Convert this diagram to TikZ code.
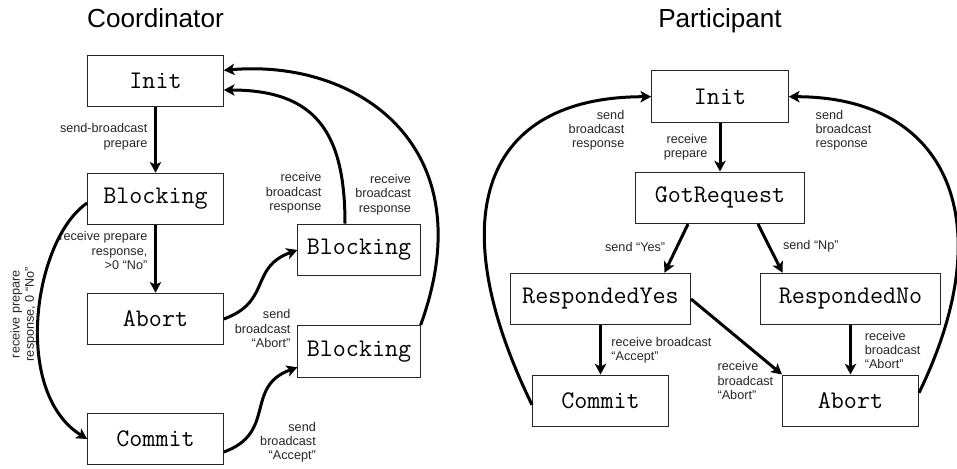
\documentclass[tikz,border=0pt]{standalone}
\usepackage{fontspec}
\setmainfont{Liberation Sans}
\usetikzlibrary{arrows.meta,positioning}

\newcommand{\lblfont}{\fontsize{9.5}{10.7}\selectfont}
\newcommand{\statefont}{\fontsize{19}{20}\selectfont\ttfamily}
\newcommand{\headfont}{\fontsize{19.6}{23}\selectfont}

\begin{document}
\begin{tikzpicture}[
  x=0.75pt, y=0.75pt,
  font=\lblfont,
  >={Stealth[length=8pt, width=8.5pt, inset=2pt]},
  statebox/.style={rectangle, draw=black!85, line width=0.75pt, fill=white,
                   minimum width=101.7pt, minimum height=38.7pt, inner sep=0pt, font=\statefont},
  heading/.style={font=\headfont, anchor=base, inner sep=0pt},
  tr/.style={->, line width=2.25pt, draw=black},
  trlbl/.style={font=\lblfont, inner sep=1pt, text=black!85},
]
\useasboundingbox (0,0) rectangle (957,-468);

% coordinator
\node[heading] (ctitle) at (155.5,-27.3) {Coordinator};
\node[statebox] (cinit)   at (155.5,-81)    {Init};
\node[statebox] (cblock)  at (155.5,-199)   {Blocking};
\node[statebox] (cabort)  at (155.5,-319)   {Abort};
\node[statebox] (ccommit) at (155.5,-439)   {Commit};
\node[statebox, minimum width=91.7pt] (cblockA) at (359,-250)   {Blocking};
\node[statebox, minimum width=91.7pt] (cblockC) at (359,-351.3) {Blocking};

\draw[tr] (cinit) -- node[trlbl, pos=0.45, left=4pt, align=right]{send-broadcast\\prepare} (cblock);
\draw[tr] (cblock) -- node[trlbl, pos=0.375, left=4pt, align=right]{receive prepare\\response,\\>0 “No”} (cabort);
\draw[tr] ([yshift=-3pt]cblock.west) to[out=214, in=148, out looseness=0.7, in looseness=0.97]
  node[trlbl, pos=0.47, rotate=90, anchor=south, xshift=-4.5pt, align=center]{receive prepare\\response, 0 “No”} (ccommit.west);
\draw[tr] (cabort.east) to[out=20, in=200, looseness=1.3]
  node[trlbl, pos=0.2, anchor=north west, xshift=-10pt, align=right]{send\\broadcast\\“Abort”} (cblockA.west);
\draw[tr] ([yshift=-9.75pt]ccommit.east) to[out=20, in=200, looseness=1.3]
  node[trlbl, pos=0.4, anchor=north west, align=right]{send\\broadcast\\“Accept”} ([yshift=-12pt]cblockC.west);
\draw[tr] ([xshift=-10.5pt]cblockA.north) to[out=90, in=0, looseness=1.3]
  node[trlbl, pos=0.12, left=14.5pt, align=right]{receive\\broadcast\\response} ([yshift=-6.75pt]cinit.east);
\draw[tr] (cblockC.north east) to[out=70, in=5, out distance=142.5pt, in distance=101pt]
  node[trlbl, pos=0.285, left=14.8pt, align=right]{receive\\broadcast\\response} ([yshift=8pt]cinit.east);

% participant
\node[heading] (ptitle) at (720,-27.3) {Participant};
\node[statebox, minimum width=102.5pt] (pinit)   at (720,-96.7)   {Init};
\node[statebox, minimum width=126.2pt] (preq)    at (720,-197.8)  {GotRequest};
\node[statebox, minimum width=135pt]   (pyes)    at (600.5,-299)  {RespondedYes};
\node[statebox, minimum width=135pt]   (pno)     at (850.5,-299)  {RespondedNo};
\node[statebox, minimum width=102pt]   (pcommit) at (600.5,-400.8) {Commit};
\node[statebox, minimum width=102pt]   (pabort)  at (850.5,-400.8) {Abort};

\draw[tr] (pinit) -- node[trlbl, midway, left=7.3pt, align=right]{receive\\prepare} (preq);
\draw[tr] ([xshift=-24pt]preq.south) -- node[trlbl, pos=0.47, left=6.7pt]{send “Yes”} ([xshift=48pt]pyes.north);
\draw[tr] ([xshift=28.5pt]preq.south) -- node[trlbl, pos=0.46, right=8.2pt]{send “Np”} ([xshift=-51pt]pno.north);
\draw[tr] (pyes) -- node[trlbl, midway, right=6.1pt, align=left]{receive broadcast\\“Accept”} (pcommit);
\draw[tr] (pyes.east) -- node[trlbl, pos=1, anchor=east, xshift=-4.5pt, yshift=-4.5pt, align=left]{receive\\broadcast\\“Abort”} (pabort.north west);
\draw[tr] (pno) -- node[trlbl, midway, right=8.6pt, align=left]{receive\\broadcast\\“Abort”} (pabort);
\draw[tr] ([yshift=-3pt]pcommit.west) .. controls +(116:210) and +(180:168) .. (pinit.west)
  node[trlbl, pos=1, anchor=north east, xshift=-18pt, yshift=-8pt, align=right]{send\\broadcast\\response};
\draw[tr] ([yshift=6pt]pabort.east) .. controls +(64:190) and +(0:160) .. (pinit.east)
  node[trlbl, pos=1, anchor=north west, xshift=18pt, yshift=-8pt, align=left]{send\\broadcast\\response};

\end{tikzpicture}
\end{document}
